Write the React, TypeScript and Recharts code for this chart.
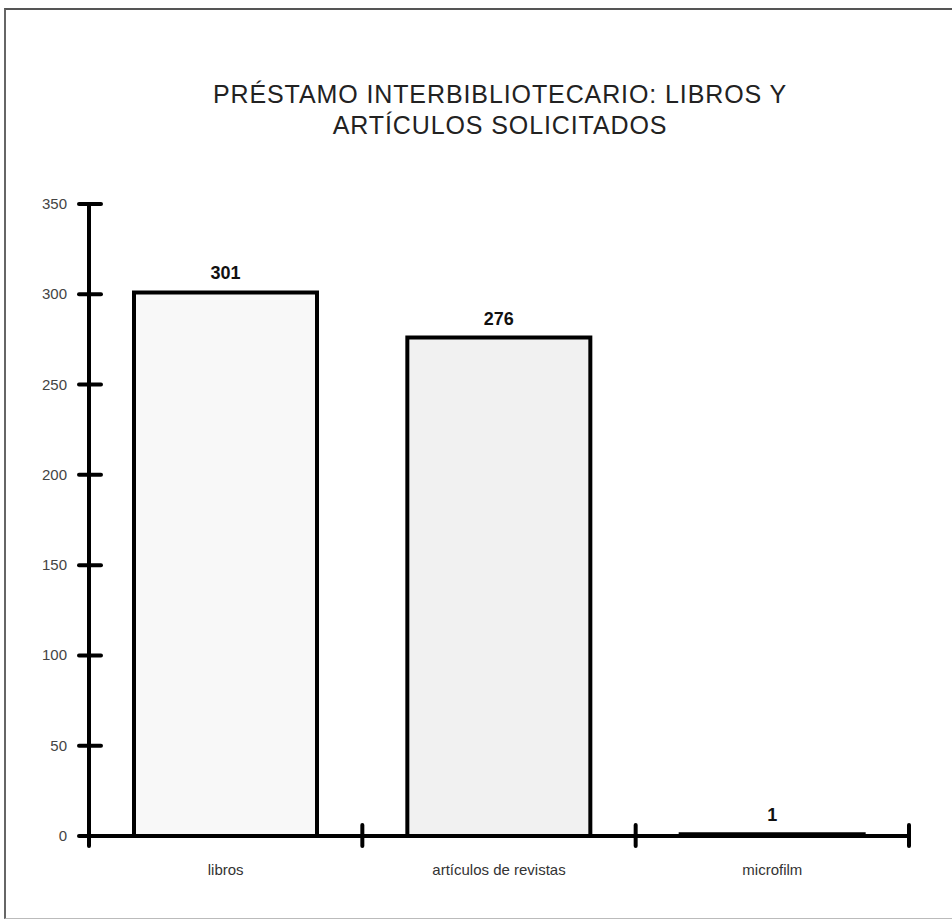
import React from "react";
import { BarChart, Bar, XAxis, YAxis, Cell, LabelList } from "recharts";

const categories = ["libros", "artículos de revistas", "microfilm"];
const requested = [301, 276, 1];
const yTicks = [0, 50, 100, 150, 200, 250, 300, 350];
const titleLines = ["PRÉSTAMO INTERBIBLIOTECARIO: LIBROS Y", "ARTÍCULOS SOLICITADOS"];
const FILLS = ["#f8f8f8", "#f1f1f1", "#f4f4f4"];

const data = categories.map((name, i) => ({ name, value: requested[i] }));

const FONT = "'Liberation Sans', Arial, sans-serif";

function YTick(props: any) {
  const { x, y, payload } = props;
  return (
    <g>
      <line x1={x - 10} x2={x + 12} y1={y} y2={y} stroke="#000" strokeWidth={4} strokeLinecap="round" />
      <text x={x - 22} y={y} dy={5} textAnchor="end" fontSize={15} fill="#444" fontFamily={FONT}>
        {payload.value}
      </text>
    </g>
  );
}

function XTick(props: any) {
  const { x, y, payload, index, visibleTicksCount, width } = props;
  const half = payload.offset ? payload.offset : width / (2 * visibleTicksCount);
  const left = x - half;
  const right = x + half;
  return (
    <g>
      <line x1={left} x2={left} y1={y - 11} y2={y + 10} stroke="#000" strokeWidth={4} strokeLinecap="round" />
      {index === visibleTicksCount - 1 && (
        <line x1={right} x2={right} y1={y - 11} y2={y + 10} stroke="#000" strokeWidth={4} strokeLinecap="round" />
      )}
      <text x={x} y={y + 39} textAnchor="middle" fontSize={15} fill="#333" fontFamily={FONT}>
        {payload.value}
      </text>
    </g>
  );
}

export default function App() {
  return (
    <div style={{ position: "absolute", left: 0, top: 0, width: 952, height: 919, background: "#fff" }}>
      <div
        style={{
          position: "absolute",
          left: 4,
          top: 8,
          width: 960,
          height: 908,
          borderLeft: "2px solid #666",
          borderTop: "2px solid #555",
          borderBottom: "1px solid #bbb",
        }}
      />
      <svg width={952} height={160} style={{ position: "absolute", left: 0, top: 0 }}>
        {titleLines.map((line, i) => (
          <text
            key={i}
            x={500}
            y={103 + i * 31}
            textAnchor="middle"
            fontSize={25}
            letterSpacing={0.9}
            fill="#222"
            fontFamily={FONT}
          >
            {line}
          </text>
        ))}
      </svg>
      <div style={{ position: "absolute", left: 0, top: 0 }}>
        <BarChart
          width={952}
          height={919}
          data={data}
          margin={{ top: 204, right: 43, bottom: 53, left: 29 }}
          barSize={183}
        >
          <XAxis
            dataKey="name"
            height={30}
            tickSize={0}
            tickMargin={0}
            tickLine={false}
            axisLine={{ stroke: "#000", strokeWidth: 4 }}
            tick={<XTick />}
            interval={0}
          />
          <YAxis
            width={60}
            domain={[0, 350]}
            ticks={yTicks}
            tickSize={0}
            tickMargin={0}
            tickLine={false}
            axisLine={{ stroke: "#000", strokeWidth: 4 }}
            tick={<YTick />}
          />
          <Bar dataKey="value" stroke="#000" strokeWidth={4} isAnimationActive={false}>
            {data.map((_, i) => (
              <Cell key={i} fill={FILLS[i % FILLS.length]} />
            ))}
            <LabelList
              dataKey="value"
              position="top"
              offset={13}
              fontSize={18}
              fontWeight="bold"
              fill="#111"
              fontFamily={FONT}
            />
          </Bar>
        </BarChart>
      </div>
    </div>
  );
}
